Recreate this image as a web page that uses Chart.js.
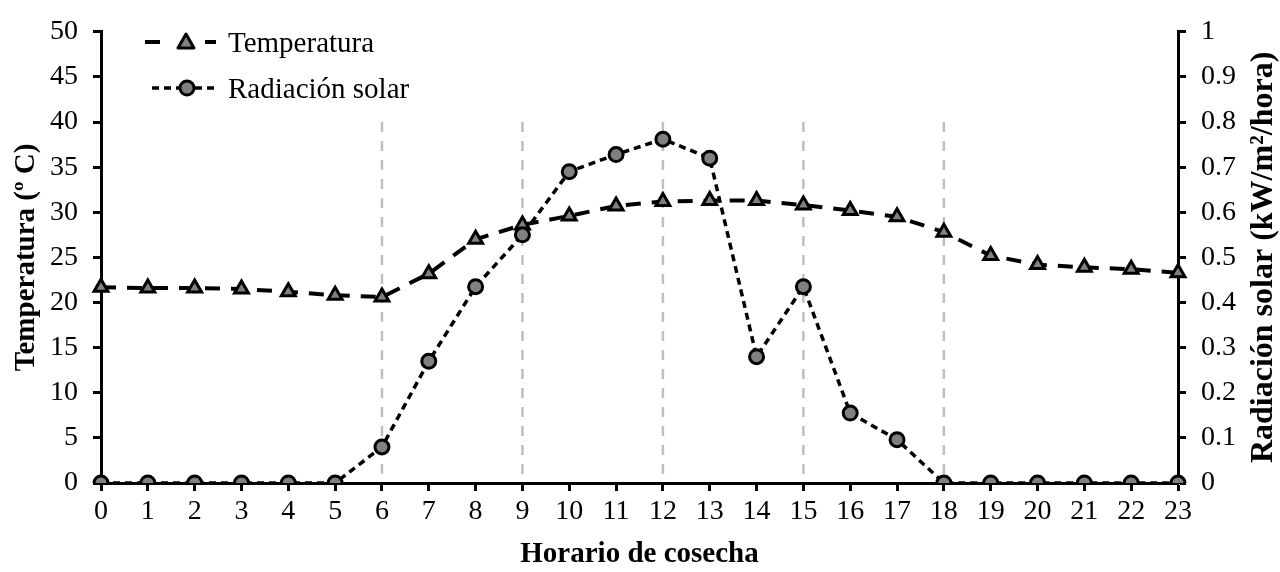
<!DOCTYPE html>
<html lang="es">
<head>
<meta charset="utf-8">
<title>Temperatura y radiación solar</title>
<script src="https://cdn.jsdelivr.net/npm/chart.js@4.4.1/dist/chart.umd.min.js"></script>
<style>
    body { margin: 0; background: #fff; }
    #wrap { position: relative; width: 1280px; height: 572px; }
    .legend-row {
        position: absolute;
        left: 143px;
        height: 30px;
        display: flex;
        align-items: center;
        font-family: 'Liberation Serif', 'Times New Roman', serif;
        font-size: 29px;
        color: #000;
    }
    .legend-row svg { margin-right: 10px; }
</style>
</head>
<body>
<div id="wrap">
    <canvas id="chart" width="1280" height="572"></canvas>
    <div class="legend-row" style="top: 27px;">
        <svg width="75" height="24" viewBox="0 0 75 24">
            <line x1="2" y1="12" x2="17" y2="12" stroke="#000" stroke-width="4"/>
            <line x1="62" y1="12" x2="73" y2="12" stroke="#000" stroke-width="4"/>
            <polygon points="43,4 51,18 35,18" fill="#808080" stroke="#000" stroke-width="3" stroke-linejoin="round"/>
        </svg>
        <span>Temperatura</span>
    </div>
    <div class="legend-row" style="top: 73px;">
        <svg width="75" height="24" viewBox="0 0 75 24">
            <line x1="9" y1="12" x2="36" y2="12" stroke="#000" stroke-width="3.5" stroke-dasharray="7,5"/>
            <line x1="52" y1="12" x2="73" y2="12" stroke="#000" stroke-width="3.5" stroke-dasharray="7,5"/>
            <circle cx="44" cy="12" r="7" fill="#808080" stroke="#000" stroke-width="3"/>
        </svg>
        <span>Radiación solar</span>
    </div>
</div>
<script>
// Chart data
const horas = ['0', '1', '2', '3', '4', '5', '6', '7', '8', '9', '10', '11',
               '12', '13', '14', '15', '16', '17', '18', '19', '20', '21', '22', '23'];

// temperature in ºC (left axis)
const temperatura = [21.7, 21.6, 21.6, 21.5, 21.2, 20.8, 20.6, 23.2, 27.0, 28.6, 29.6, 30.7,
                     31.2, 31.3, 31.3, 30.8, 30.2, 29.5, 27.8, 25.2, 24.2, 23.9, 23.7, 23.3];

// solar radiation in kW/m2/hora (right axis)
const radiacion = [0, 0, 0, 0, 0, 0, 0.08, 0.27, 0.435, 0.55, 0.69, 0.728,
                   0.762, 0.72, 0.28, 0.435, 0.155, 0.096, 0, 0, 0, 0, 0, 0];

// hours that get a grey dashed guide line, and how high it goes (left axis value)
const horasGuia = ['6', '9', '12', '15', '18'];
const alturaGuia = 40;

const tempTicks = { min: 0, max: 50, step: 5 };
const radTicks = { min: 0, max: 1, step: 0.1 };

const FONT = "'Liberation Serif', 'Times New Roman', serif";

// vertical dashed guides behind the lines
const guidePlugin = {
    id: 'guides',
    beforeDatasetsDraw(chart) {
        const ctx = chart.ctx;
        const x = chart.scales.x;
        const y = chart.scales.yTemp;
        ctx.save();
        ctx.strokeStyle = '#bfbfbf';
        ctx.lineWidth = 2.5;
        ctx.setLineDash([10, 9]);
        horasGuia.forEach(h => {
            const px = x.getPixelForValue(horas.indexOf(h));
            ctx.beginPath();
            ctx.moveTo(px, y.getPixelForValue(alturaGuia));
            ctx.lineTo(px, y.getPixelForValue(0));
            ctx.stroke();
        });
        ctx.restore();
    }
};

// right axis title reads bottom-to-top like the original
const rightTitlePlugin = {
    id: 'rightTitle',
    afterDraw(chart) {
        const s = chart.scales.yRad;
        const ctx = chart.ctx;
        ctx.save();
        ctx.translate(s.right - 16, (s.top + s.bottom) / 2);
        ctx.rotate(-Math.PI / 2);
        ctx.font = 'bold 32px ' + FONT;
        ctx.fillStyle = '#000';
        ctx.textAlign = 'center';
        ctx.textBaseline = 'middle';
        ctx.fillText('Radiación solar (kW/m²/hora)', 0, 0);
        ctx.restore();
    }
};

const axisBorder = { display: true, color: '#000', width: 3 };
const axisGrid = { drawOnChartArea: false, drawTicks: true, tickLength: 8, tickColor: '#000', tickWidth: 3 };

new Chart(document.getElementById('chart'), {
    type: 'line',
    data: {
        labels: horas,
        datasets: [
            {
                label: 'Temperatura',
                data: temperatura,
                yAxisID: 'yTemp',
                borderColor: '#000',
                borderWidth: 4,
                borderDash: [15, 11],
                backgroundColor: '#808080',
                pointStyle: 'triangle',
                pointRadius: 8,
                pointBorderWidth: 3,
                pointBorderColor: '#000',
                pointBackgroundColor: '#808080',
                tension: 0,
                order: 2
            },
            {
                label: 'Radiación solar',
                data: radiacion,
                yAxisID: 'yRad',
                borderColor: '#000',
                borderWidth: 3.5,
                borderDash: [7, 5],
                backgroundColor: '#808080',
                pointStyle: 'circle',
                pointRadius: 7,
                pointBorderWidth: 3,
                pointBorderColor: '#000',
                pointBackgroundColor: '#808080',
                tension: 0,
                order: 1
            }
        ]
    },
    options: {
        responsive: false,
        animation: false,
        events: [],
        layout: { padding: { top: 25, left: 0, right: 0, bottom: 0 } },
        plugins: {
            legend: { display: false },
            tooltip: { enabled: false }
        },
        scales: {
            x: {
                offset: false,
                border: axisBorder,
                grid: axisGrid,
                ticks: { color: '#000', font: { family: FONT, size: 28 }, padding: 4, maxRotation: 0, autoSkip: false },
                title: {
                    display: true,
                    text: 'Horario de cosecha',
                    color: '#000',
                    font: { family: FONT, size: 29, weight: 'bold' },
                    padding: { top: 2, bottom: 0 }
                },
                afterFit(scale) { scale.height = 89; }
            },
            yTemp: {
                position: 'left',
                min: tempTicks.min,
                max: tempTicks.max,
                border: axisBorder,
                grid: axisGrid,
                ticks: { stepSize: tempTicks.step, color: '#000', font: { family: FONT, size: 28 }, padding: 15 },
                title: {
                    display: true,
                    text: 'Temperatura (º C)',
                    color: '#000',
                    font: { family: FONT, size: 29, weight: 'bold' },
                    padding: { top: 9, bottom: 0 }
                },
                afterFit(scale) { scale.width = 101; }
            },
            yRad: {
                position: 'right',
                min: radTicks.min,
                max: radTicks.max,
                border: axisBorder,
                grid: axisGrid,
                ticks: {
                    stepSize: radTicks.step,
                    color: '#000',
                    font: { family: FONT, size: 28 },
                    padding: 15,
                    callback: v => String(+v.toFixed(1))
                },
                afterFit(scale) { scale.width = 102; }
            }
        }
    },
    plugins: [guidePlugin, rightTitlePlugin]
});
</script>
</body>
</html>
